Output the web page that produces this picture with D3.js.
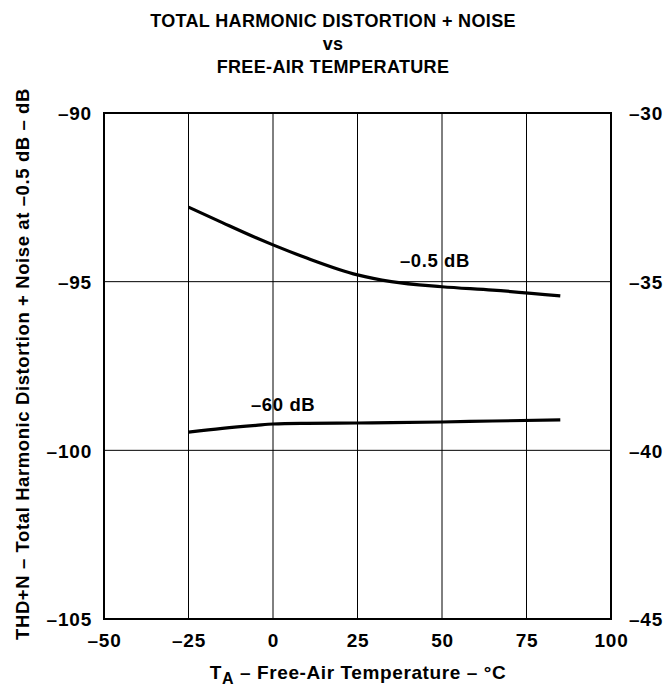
<!DOCTYPE html>
<html><head><meta charset="utf-8">
<script src="https://cdn.jsdelivr.net/npm/d3@7"></script>
<style>body{margin:0;background:#fff}svg text{font-family:"Liberation Sans",Arial,sans-serif;font-weight:bold;fill:#000}</style>
</head><body>
<script>
const temps = [-25, -15, -5, 0, 10, 25, 35, 50, 65, 85];
const thdHigh = [-92.79, -93.25, -93.7, -93.91, -94.3, -94.8, -95.0, -95.15, -95.25, -95.42];
const thdLow = [-99.46, -99.35, -99.26, -99.22, -99.2, -99.19, -99.18, -99.16, -99.13, -99.1];
const xTicks = [-50, -25, 0, 25, 50, 75, 100];
const yTicks = [-105, -100, -95, -90];
const y2Ticks = [-45, -40, -35, -30];
const titleLines = ["TOTAL HARMONIC DISTORTION + NOISE", "vs", "FREE-AIR TEMPERATURE"];

const W = 666, H = 687;
const L = 104, R = 611, T = 113, B = 619;
const svg = d3.select("body").append("svg").attr("width", W).attr("height", H);
const x = d3.scaleLinear().domain([-50, 100]).range([L, R]);
const y = d3.scaleLinear().domain([-105, -90]).range([B, T]);
const y2 = d3.scaleLinear().domain([-45, -30]).range([B, T]);

// grid
svg.append("g").selectAll("line").data(xTicks.slice(1, -1)).join("line")
  .attr("x1", d => x(d)).attr("x2", d => x(d)).attr("y1", T).attr("y2", B)
  .attr("stroke", "#000").attr("stroke-width", 1);
svg.append("g").selectAll("line").data(yTicks.slice(1, -1)).join("line")
  .attr("y1", d => y(d)).attr("y2", d => y(d)).attr("x1", L).attr("x2", R)
  .attr("stroke", "#000").attr("stroke-width", 1);
svg.append("rect").attr("x", L).attr("y", T).attr("width", R - L).attr("height", B - T)
  .attr("fill", "none").attr("stroke", "#000").attr("stroke-width", 2);

// axes (labels only)
const fs = 19;
const fmt = d => String(d).replace("-", "\u2013");
const ax = svg.append("g").attr("transform", `translate(0,${B})`)
  .call(d3.axisBottom(x).tickValues(xTicks).tickSize(0).tickPadding(14.5).tickFormat(fmt));
const ay = svg.append("g").attr("transform", `translate(${L},0)`)
  .call(d3.axisLeft(y).tickValues(yTicks).tickSize(0).tickPadding(12).tickFormat(fmt));
const ay2 = svg.append("g").attr("transform", `translate(${R},0)`)
  .call(d3.axisRight(y2).tickValues(y2Ticks).tickSize(0).tickPadding(18).tickFormat(fmt));
[ax, ay, ay2].forEach(g => {
  g.select(".domain").remove();
  g.selectAll("text").attr("font-size", fs).attr("letter-spacing", "0.8px")
    .attr("font-family", "Liberation Sans, Arial, sans-serif").attr("font-weight", "bold").attr("fill", "#000");
});
ay.selectAll("text").attr("dy", "0.36em");
ay2.selectAll("text").attr("dy", "0.36em");

// curves
const line = d3.line().x(d => x(d[0])).y(d => y(d[1])).curve(d3.curveMonotoneX);
svg.append("path").datum(temps.map((t, i) => [t, thdHigh[i]])).attr("d", line)
  .attr("fill", "none").attr("stroke", "#000").attr("stroke-width", 3.2);
svg.append("path").datum(temps.map((t, i) => [t, thdLow[i]])).attr("d", line)
  .attr("fill", "none").attr("stroke", "#000").attr("stroke-width", 3.2);

// curve labels
svg.append("text").attr("x", x(47.9)).attr("y", y(-94.57)).attr("text-anchor", "middle").attr("font-size", 18.5).attr("letter-spacing", "0.6px").text("\u20130.5 dB");
svg.append("text").attr("x", x(3)).attr("y", y(-98.83)).attr("text-anchor", "middle").attr("font-size", 18.5).attr("letter-spacing", "0.6px").text("\u201360 dB");

// title
svg.append("g").selectAll("text").data(titleLines).join("text")
  .attr("x", 333).attr("y", (d, i) => 27 + i * 23).attr("text-anchor", "middle").attr("font-size", 18).attr("letter-spacing", "0.35px").text(d => d);

// x axis title
const xt = svg.append("text").attr("x", 358).attr("y", 679).attr("text-anchor", "middle").attr("font-size", 19).attr("letter-spacing", "0.6px");
xt.append("tspan").text("T");
xt.append("tspan").attr("font-size", 16).attr("dy", 5).text("A");
xt.append("tspan").attr("dy", -5).text(" \u2013 Free-Air Temperature \u2013 \u00B0C");

// y axis title
svg.append("text").attr("transform", "translate(29,364) rotate(-90)").attr("text-anchor", "middle").attr("font-size", 18.5).attr("letter-spacing", "0.6px")
  .text("THD+N \u2013 Total Harmonic Distortion + Noise at \u20130.5 dB \u2013 dB");
</script>
</body></html>
